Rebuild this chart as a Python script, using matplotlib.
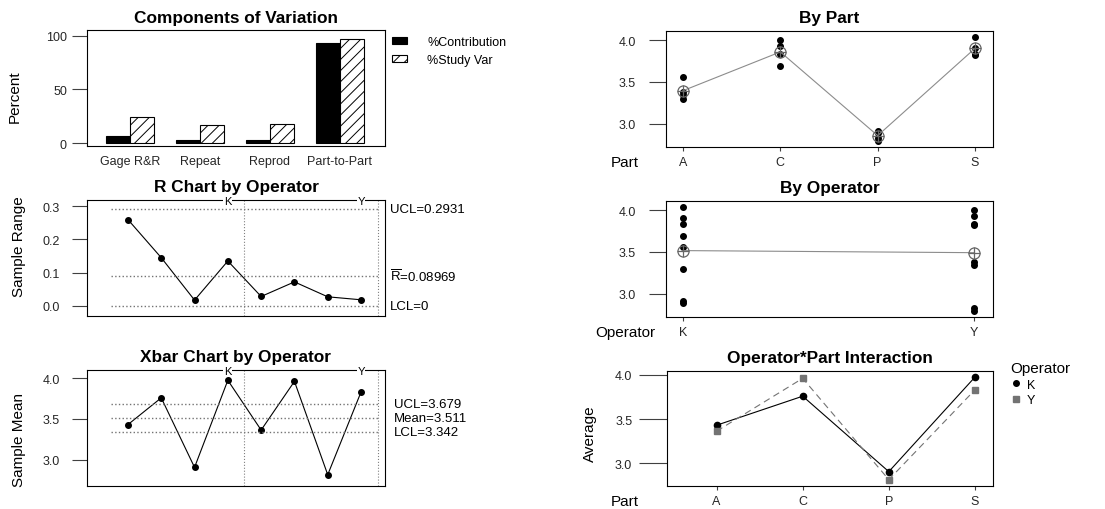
import numpy as np
import matplotlib.pyplot as plt
import matplotlib.transforms as mtransforms
from matplotlib.lines import Line2D

plt.rcParams['font.family'] = ['Liberation Sans', 'DejaVu Sans']
plt.rcParams['mathtext.fontset'] = 'custom'
plt.rcParams['mathtext.rm'] = 'Liberation Sans'
plt.rcParams['hatch.linewidth'] = 0.7

# components of variation (%)
components = ['Gage R&R', 'Repeat', 'Reprod', 'Part-to-Part']
pct_contribution = [6.2, 2.8, 3.2, 93.8]
pct_study_var = [24.6, 16.8, 17.8, 96.7]

# measurements: two trials for each operator and part
parts = ['A', 'C', 'P', 'S']
operators = ['K', 'Y']
k_trial1 = [3.560, 3.830, 2.915, 4.040]
k_trial2 = [3.300, 3.685, 2.898, 3.905]
y_trial1 = [3.377, 3.995, 2.830, 3.838]
y_trial2 = [3.349, 3.923, 2.803, 3.820]

# control limits as printed on the charts
r_limits = [0.2931, 0.08969, 0.0]
r_labels = ['UCL=0.2931', r'$\overline{\mathrm{R}}$=0.08969', 'LCL=0']
xbar_limits = [3.679, 3.511, 3.342]
xbar_labels = ['UCL=3.679', 'Mean=3.511', 'LCL=3.342']

W, H = 1105, 510
fig = plt.figure(figsize=(W / 100, H / 100), dpi=100)


def add_ax(x0, y0, x1, y1):
    # pixel box (from top-left) -> figure fraction
    return fig.add_axes([x0 / W, 1 - y1 / H, (x1 - x0) / W, (y1 - y0) / H])


def style(ax, ylen, ypad, xlen=0, xpad=4):
    for s in ax.spines.values():
        s.set_linewidth(0.8)
    ax.tick_params(axis='y', length=ylen, pad=ypad, width=0.8, labelsize=9, color='0.25', labelcolor='0.15')
    ax.tick_params(axis='x', length=xlen, pad=xpad, width=0.8, labelsize=9, color='0.25', labelcolor='0.15')


def title(ax, text):
    ax.set_title(text, fontsize=12.4, fontweight='bold', pad=6)


trial1 = np.array([k_trial1, y_trial1])
trial2 = np.array([k_trial2, y_trial2])
ranges = np.abs(trial1 - trial2).ravel()
means = ((trial1 + trial2) / 2)

# ---- Components of Variation
ax1 = add_ax(87, 31, 385, 147)
xc = np.arange(len(components))
w = 0.343
ax1.bar(xc - w / 2, pct_contribution, w, color='black', edgecolor='black', lw=0.8, label='%Contribution')
ax1.bar(xc + w / 2, pct_study_var, w, color='white', edgecolor='black', hatch='///', lw=0.8, label='%Study Var')
ax1.set_xlim(-0.614, 3.643)
ax1.set_ylim(-2.8, 105.5)
ax1.set_xticks(xc, components)
ax1.set_yticks([0, 50, 100])
style(ax1, 10.8, 3.6, 0, 6.5)
ax1.set_ylabel('Percent', fontsize=11, va='center')
ax1.yaxis.set_label_coords(-0.242, 0.43)
title(ax1, 'Components of Variation')
ax1.legend(loc='upper left', bbox_to_anchor=(392 / W, 1 - 37 / H), bbox_transform=fig.transFigure,
           frameon=False, borderpad=0, borderaxespad=0, fontsize=9, handlelength=1.2,
           handleheight=0.45, handletextpad=1.6, labelspacing=0.45)

samples = np.arange(1, 9)

# ---- R chart
ax2 = add_ax(87, 200.7, 385, 316.7)
ax2.plot(samples, ranges, color='black', lw=0.8, marker='o', ms=4)
for v, lab in zip(r_limits, r_labels):
    ax2.hlines(v, 0.5, 8.5, colors='0.45', linestyles=':', lw=1)
    ax2.text(1.017, v, lab, transform=mtransforms.blended_transform_factory(ax2.transAxes, ax2.transData),
             va='center', fontsize=9.5)
ax2.set_xlim(-0.23, 8.72)
ax2.set_ylim(-0.030, 0.32)
ax2.set_xticks([])
ax2.set_yticks([0, 0.1, 0.2, 0.3])
ax2.yaxis.set_major_formatter('{x:.1f}')
style(ax2, 10.8, 8.6)
ax2.set_ylabel('Sample Range', fontsize=11, va='center')
ax2.yaxis.set_label_coords(-0.228, 0.6)
title(ax2, 'R Chart by Operator')

# ---- Xbar chart
ax3 = add_ax(87, 370.7, 385, 486.7)
ax3.plot(samples, means.ravel(), color='black', lw=0.8, marker='o', ms=4)
for v, lab in zip(xbar_limits, xbar_labels):
    ax3.hlines(v, 0.5, 8.5, colors='0.45', linestyles=':', lw=1)
    ax3.text(1.03, v, lab, transform=mtransforms.blended_transform_factory(ax3.transAxes, ax3.transData),
             va='center', fontsize=9.5)
ax3.set_xlim(-0.23, 8.72)
ax3.set_ylim(2.682, 4.102)
ax3.set_xticks([])
ax3.set_yticks([3.0, 3.5, 4.0])
ax3.yaxis.set_major_formatter('{x:.1f}')
style(ax3, 10.8, 8.6)
ax3.set_ylabel('Sample Mean', fontsize=11, va='center')
ax3.yaxis.set_label_coords(-0.228, 0.4)
title(ax3, 'Xbar Chart by Operator')

for ax in (ax2, ax3):
    tr = mtransforms.blended_transform_factory(ax.transData, ax.transAxes)
    for k, op in enumerate(operators):
        ax.axvline(4.5 + 4 * k, color='0.5', ls=':', lw=0.8)
        ax.text(4 + 4 * k, 0.99, op, transform=tr, ha='center', va='center', fontsize=8,
                bbox=dict(facecolor='white', edgecolor='none', pad=0.5))

# ---- By Part
ax4 = add_ax(666, 31.7, 993, 148.3)
xp = np.arange(len(parts))
for i in xp:
    vals = np.concatenate([trial1[:, i], trial2[:, i]])
    ax4.plot(np.full(vals.size, i), vals, 'o', color='black', ms=4)
part_means = means.mean(axis=0)
ax4.plot(xp, part_means, color='0.55', lw=0.8)
ax4.plot(xp, part_means, 'o', mfc='none', mec='0.4', ms=8, mew=0.9)
ax4.plot(xp, part_means, '+', color='0.4', ms=8, mew=0.9)
ax4.set_xlim(-0.175, 3.185)
ax4.set_ylim(2.722, 4.111)
ax4.set_xticks(xp, parts)
ax4.set_yticks([3.0, 3.5, 4.0])
ax4.yaxis.set_major_formatter('{x:.1f}')
style(ax4, 12.2, 9.4, 3, 3.6)
ax4.text(-0.125, -0.126, 'Part', transform=ax4.transAxes, ha='center', va='center', fontsize=11)
title(ax4, 'By Part')

# ---- By Operator
ax5 = add_ax(666, 201.7, 993, 318.3)
xo = np.arange(len(operators))
for j in xo:
    vals = np.concatenate([trial1[j], trial2[j]])
    ax5.plot(np.full(vals.size, j), vals, 'o', color='black', ms=4)
op_means = means.mean(axis=1)
ax5.plot(xo, op_means, color='0.55', lw=0.8)
ax5.plot(xo, op_means, 'o', mfc='none', mec='0.4', ms=8, mew=0.9)
ax5.plot(xo, op_means, '+', color='0.4', ms=8, mew=0.9)
ax5.set_xlim(-0.058, 1.065)
ax5.set_ylim(2.722, 4.111)
ax5.set_xticks(xo, operators)
ax5.set_yticks([3.0, 3.5, 4.0])
ax5.yaxis.set_major_formatter('{x:.1f}')
style(ax5, 12.2, 9.4, 3, 3.6)
ax5.text(-0.125, -0.129, 'Operator', transform=ax5.transAxes, ha='center', va='center', fontsize=11)
title(ax5, 'By Operator')

# ---- Operator*Part interaction
ax6 = add_ax(667, 371.7, 993, 486.7)
ax6.plot(xp, means[0], color='black', lw=0.8, marker='o', ms=4.5)
ax6.plot(xp, means[1], color='0.45', lw=0.8, ls=(0, (6, 4)), marker='s', ms=4)
ax6.set_xlim(-0.576, 3.21)
ax6.set_ylim(2.748, 4.045)
ax6.set_xticks(xp, parts)
ax6.set_yticks([3.0, 3.5, 4.0])
ax6.yaxis.set_major_formatter('{x:.1f}')
style(ax6, 20, 5, 3, 3.6)
ax6.set_ylabel('Average', fontsize=11, va='center')
ax6.yaxis.set_label_coords(-0.236, 0.46)
ax6.text(-0.13, -0.13, 'Part', transform=ax6.transAxes, ha='center', va='center', fontsize=11)
title(ax6, 'Operator*Part Interaction')
handles = [Line2D([], [], ls='none', marker='o', color='black', ms=4),
           Line2D([], [], ls='none', marker='s', color='0.45', ms=4)]
leg = ax6.legend(handles, operators, title='Operator', loc='upper left',
                 bbox_to_anchor=(1010 / W, 1 - 362 / H), bbox_transform=fig.transFigure,
                 frameon=False, borderpad=0, borderaxespad=0, fontsize=9, title_fontsize=11,
                 handlelength=1.0, handletextpad=0.35, labelspacing=0.3, alignment='left')

fig.savefig('out.png', dpi=100)
